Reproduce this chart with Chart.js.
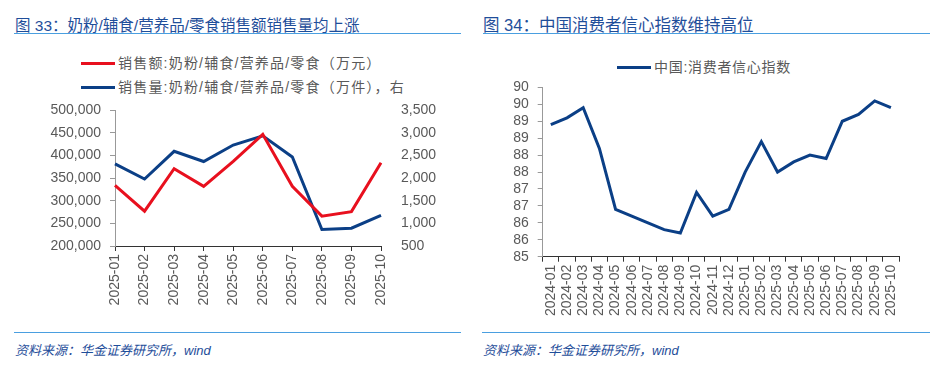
<!DOCTYPE html>
<html>
<head>
<meta charset="utf-8">
<script src="https://cdn.jsdelivr.net/npm/chart.js@4.4.1/dist/chart.umd.min.js"></script>
<style>
  html, body { margin:0; padding:0; background:#fff; }
  body { width:936px; height:366px; position:relative; overflow:hidden;
         font-family: Arial, "Liberation Sans", "Noto Sans CJK SC", sans-serif; }
  .title { position:absolute; top:13px; font-size:15.5px; color:#1f4e9a;
           font-family: "Liberation Sans", "Noto Sans CJK SC", sans-serif; white-space:nowrap; }
  .rule { position:absolute; height:0; border-top:1.5px solid #4a9fe0; }
  .src { position:absolute; top:340px; font-size:13px; color:#1f4e9a; font-style:italic;
         font-family: "Liberation Sans", "Noto Sans CJK SC", sans-serif; white-space:nowrap; }
  .leg { position:absolute; font-size:14px; color:#595959; white-space:nowrap;
         font-family: "Liberation Sans", "Noto Sans CJK SC", sans-serif; line-height:16px; }
  .leg i { display:inline-block; width:34px; height:3px; vertical-align:middle; margin-right:3px; position:relative; top:-1px; }
  canvas { position:absolute; }
</style>
</head>
<body>
<div class="title" style="left:15px">图 33：奶粉/辅食/营养品/零食销售额销售量均上涨</div>
<div class="rule" style="left:14px; width:447px; top:33px"></div>
<div class="title" style="left:483px; font-size:16.5px; top:12px">图 34：中国消费者信心指数维持高位</div>
<div class="rule" style="left:483px; width:447px; top:33px"></div>

<div class="leg" style="left:81px; top:55px; letter-spacing:1.2px"><i style="background:#e8101e"></i>销售额:奶粉/辅食/营养品/零食（万元）</div>
<div class="leg" style="left:81px; top:79px; letter-spacing:1.2px"><i style="background:#0b3f86"></i>销售量:奶粉/辅食/营养品/零食（万件），右</div>
<div class="leg" style="left:617px; top:59px; letter-spacing:0.7px"><i style="background:#0b3f86"></i>中国:消费者信心指数</div>

<canvas id="c1" width="470" height="230" style="left:0; top:90px; width:470px; height:230px"></canvas>
<canvas id="c2" width="466" height="250" style="left:470px; top:70px; width:466px; height:250px"></canvas>

<div class="rule" style="left:14px; width:447px; top:332px"></div>
<div class="src" style="left:15px">资料来源：华金证券研究所，wind</div>
<div class="rule" style="left:482px; width:448px; top:332px"></div>
<div class="src" style="left:483px">资料来源：华金证券研究所，wind</div>

<script>
// fig 33
const months33 = ['2025-01','2025-02','2025-03','2025-04','2025-05','2025-06','2025-07','2025-08','2025-09','2025-10'];
const salesAmount = [334000, 277000, 371000, 332000, 387000, 447000, 332000, 266000, 276000, 384000]; // 万元
const salesVolume = [2318, 1982, 2595, 2369, 2734, 2938, 2471, 865, 894, 1179];                     // 万件, right axis

// fig 34
const months34 = ['2024-01','2024-02','2024-03','2024-04','2024-05','2024-06','2024-07','2024-08','2024-09','2024-10','2024-11','2024-12',
                  '2025-01','2025-02','2025-03','2025-04','2025-05','2025-06','2025-07','2025-08','2025-09','2025-10'];
const cci = [88.9, 89.1, 89.4, 88.2, 86.4, 86.2, 86.0, 85.8, 85.7, 86.9, 86.2, 86.4,
             87.5, 88.4, 87.5, 87.8, 88.0, 87.9, 89.0, 89.2, 89.6, 89.4];

const RED = '#e8101e', NAVY = '#0b3f86', TXT = '#595959';
const tickFont = { family: 'Arial, "Liberation Sans", sans-serif', size: 14 };

Chart.defaults.animation = false;
Chart.defaults.font.family = tickFont.family;

const lineDs = (data, color, axis) => ({
  data, borderColor: color, borderWidth: 3, pointRadius: 0, tension: 0, yAxisID: axis, fill: false
});

new Chart(document.getElementById('c1'), {
  type: 'line',
  data: {
    labels: months33,
    datasets: [lineDs(salesAmount, RED, 'y'), lineDs(salesVolume, NAVY, 'y1')]
  },
  options: {
    responsive: false,
    layout: { padding: { top: 19, left: 0, right: 0, bottom: 0 } },
    plugins: { legend: { display: false }, tooltip: { enabled: false } },
    scales: {
      x: {
        offset: false,
        grid: { display: true, drawOnChartArea: false, drawTicks: true, tickLength: 5, color: '#333' },
        border: { display: true, color: '#333', width: 1 },
        ticks: { color: TXT, font: tickFont, maxRotation: 90, minRotation: 90, autoSkip: false, padding: 3 },
        afterFit: s => { s.height = 74; }
      },
      y: {
        position: 'left', min: 200000, max: 500000,
        grid: { display: true, drawOnChartArea: false, tickLength: 5, color: '#999' },
        border: { display: true, color: '#999', width: 1 },
        ticks: { stepSize: 50000, autoSkip: false, color: TXT, font: tickFont, padding: 9,
                 callback: v => v.toLocaleString('en-US') },
        afterFit: s => { s.width = 115; }
      },
      y1: {
        position: 'right', min: 500, max: 3500,
        grid: { display: false, drawOnChartArea: false },
        border: { display: false },
        ticks: { stepSize: 500, autoSkip: false, color: TXT, font: tickFont, padding: 12,
                 callback: v => v.toLocaleString('en-US') },
        afterFit: s => { s.width = 89; }
      }
    }
  }
});

new Chart(document.getElementById('c2'), {
  type: 'line',
  data: { labels: months34, datasets: [lineDs(cci, NAVY, 'y')] },
  options: {
    responsive: false,
    layout: { padding: { top: 16, left: 0, right: 37, bottom: 0 } },
    plugins: { legend: { display: false }, tooltip: { enabled: false } },
    scales: {
      x: {
        offset: true,
        grid: { display: true, offset: true, drawOnChartArea: false, tickLength: 5, color: '#333' },
        border: { display: true, color: '#333', width: 1 },
        ticks: { color: TXT, font: tickFont, maxRotation: 90, minRotation: 90, autoSkip: false, padding: 3 },
        afterFit: s => { s.height = 63.3; }
      },
      y: {
        min: 85, max: 90,
        grid: { display: true, drawOnChartArea: false, tickLength: 5, color: '#999' },
        border: { display: true, color: '#999', width: 1 },
        ticks: { stepSize: 0.5, autoSkip: false, color: TXT, font: tickFont, padding: 9,
                 callback: v => Math.round(v) },
        afterFit: s => { s.width = 72.7; }
      }
    }
  }
});
</script>
</body>
</html>
